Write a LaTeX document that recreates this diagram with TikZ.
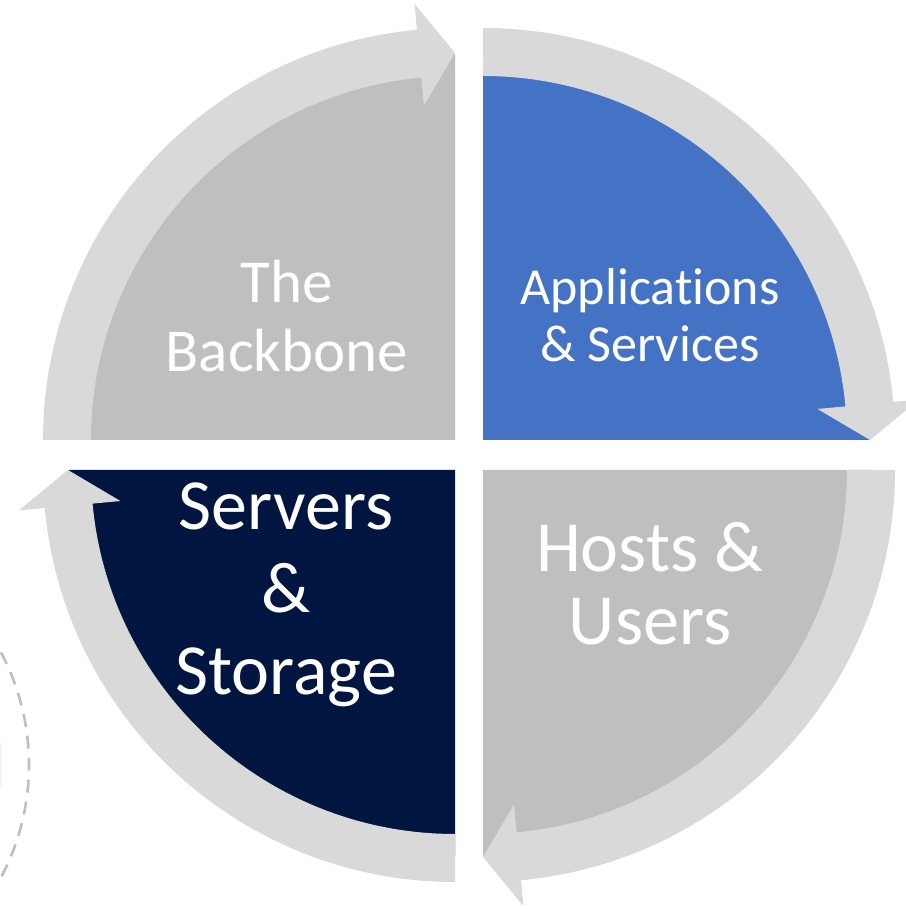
\documentclass[tikz,border=0pt]{standalone}
\usepackage{fontspec}
\setmainfont[Ligatures=NoCommon]{Carlito}
\usetikzlibrary{calc}
\definecolor{bandgray}{RGB}{217,217,217}
\definecolor{wgray}{RGB}{191,191,191}
\definecolor{wblue}{RGB}{68,114,196}
\definecolor{wnavy}{RGB}{0,22,65}
\definecolor{dashgray}{RGB}{191,191,191}
\tikzset{
  wedgeshape/.pic={\fill[pic actions] (0,0) -- (180:386) arc[start angle=180,end angle=90,radius=386] -- cycle;},
  bandarrow/.pic={\fill[bandgray] (180:412) arc[start angle=180,end angle=95.3,radius=412]
      -- (95.3:438) -- (90:387) -- (95.3:336) -- (95.3:364)
      arc[start angle=95.3,end angle=180,radius=364] -- cycle;},
  lbl/.style={text=white, align=center, anchor=base, inner sep=0pt},
  dasharc/.style={draw=dashgray, line width=2.6pt, dash pattern=on 13pt off 9pt}
}
\begin{document}
\begin{tikzpicture}[x=1pt,y=1pt]
\useasboundingbox (0,0) rectangle (905,909);
% dashed arc at the left edge
\coordinate (dc) at (-211,144);
\draw[dasharc] ($(dc)+(28:240)$) arc[start angle=28,end angle=-28,radius=240];
\draw[gray!8, line width=1.5pt] (0.8,166) -- (0.8,122);
% quadrant centres
\coordinate (c1) at (455,469);
\coordinate (c2) at (483,469);
\coordinate (c3) at (455,439);
\coordinate (c4) at (483,439);
% wedges
\pic[fill=wgray] at (c1) {wedgeshape};
\pic[fill=wblue, rotate=-90] at (c2) {wedgeshape};
\pic[fill=wgray, rotate=-180] at (c4) {wedgeshape};
\pic[fill=wnavy, rotate=-270] at (c3) {wedgeshape};
% curved arrows
\pic at (c1) {bandarrow};
\pic[rotate=-90] at (c2) {bandarrow};
\pic[rotate=-180] at (c4) {bandarrow};
\pic[rotate=-270] at (c3) {bandarrow};
% labels (base anchor = baseline of the last line)
\node[lbl, font=\fontsize{61}{69}\selectfont] (tb) at (287,537) {The\\Backbone};
\node[lbl, font=\fontsize{52}{57}\selectfont] (as) at (650,547) {Applications\\\& Services};
\node[lbl, font=\fontsize{72}{73}\selectfont] (hu) at (650,264) {Hosts \&\\Users};
\node[lbl, font=\fontsize{72}{82.5}\selectfont] (ss) at (286,214) {Servers\\\&\\Storage};
\end{tikzpicture}
\end{document}
